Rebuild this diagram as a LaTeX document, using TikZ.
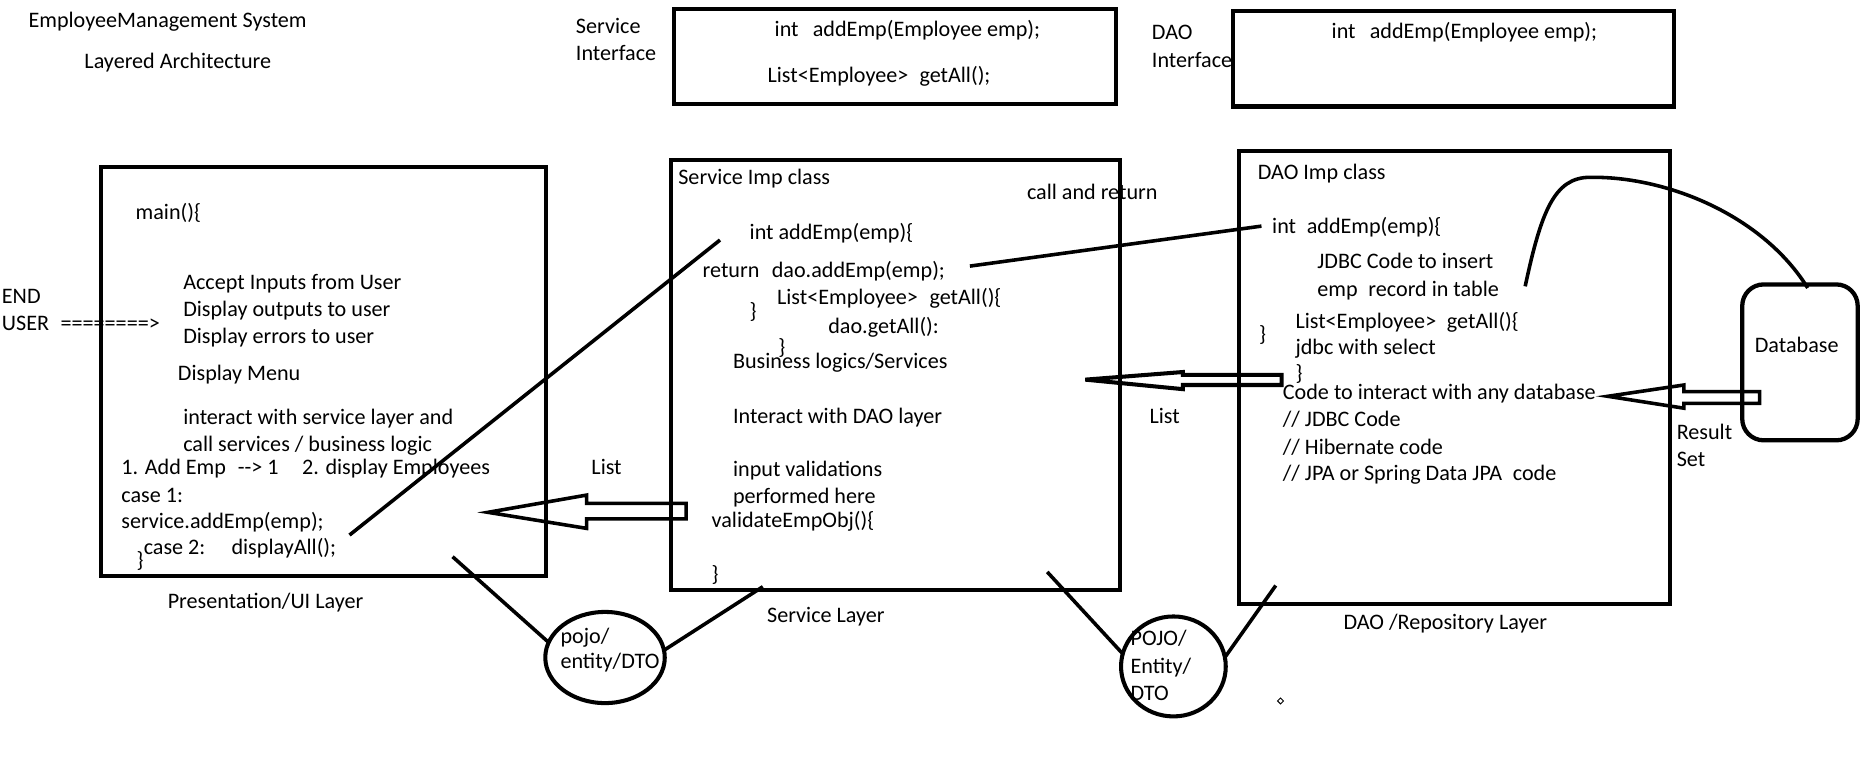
\documentclass[tikz,border=0pt]{standalone}
\usepackage{fontspec}
\setmainfont{Carlito}
\usetikzlibrary{shapes.geometric}
\begin{document}
\begin{tikzpicture}[x=1pt,y=-1pt,
  lbl/.style={anchor=base west, inner sep=0pt, outer sep=0pt, yshift=-6pt,
              font=\fontsize{18.6}{22}\selectfont},
  box/.style={draw, line width=3.4pt, anchor=north west, inner sep=0pt, outer sep=0pt},
  conn/.style={line width=3pt},
  hollow/.style={line width=3pt, line join=miter},
  bubble/.style={ellipse, draw, line width=3.4pt, inner sep=0pt, outer sep=0pt}]

\fill[white] (0,0) rectangle (1568,646);
\useasboundingbox (0,0) rectangle (1568,646);

% ---- headings ----
\node[lbl] (title) at (24,17.4) {EmployeeManagement System};
\node[lbl] (subtitle) at (71,51.8) {Layered Architecture};

% ---- service interface ----
\node[lbl] (svcIfA) at (484,22.4) {Service};
\node[lbl] (svcIfB) at (484,44.8) {Interface};
\node[box, minimum width=372pt, minimum height=80pt] (svcIf) at (566,7.5) {};
\node[lbl] (svcIf1) at (651,24.6) {int\hspace{12pt}addEmp(Employee emp);};
\node[lbl] (svcIf2) at (645,63) {List<Employee>\hspace{9.4pt}getAll();};

% ---- DAO interface ----
\node[lbl] (daoIfA) at (968,27.2) {DAO};
\node[lbl] (daoIfB) at (968,50.4) {Interface};
\node[box, minimum width=371pt, minimum height=80.5pt] (daoIf) at (1036,9) {};
\node[lbl] (daoIf1) at (1119,26.6) {int\hspace{12pt}addEmp(Employee emp);};

% ---- presentation layer ----
\node[lbl] (endA) at (1.6,249) {END};
\node[lbl] (endB) at (1.6,271.5) {USER\hspace{9.7pt}========>};
\node[box, minimum width=374pt, minimum height=344pt] (ui) at (85,140) {};
\node[lbl] (ui0) at (114,178.4) {main()\{};
\node[lbl] (ui1) at (154,237) {Accept Inputs from User};
\node[lbl] (ui2) at (154,259.7) {Display outputs to user};
\node[lbl] (ui3) at (154,282.7) {Display errors to user};
\node[lbl] (ui4) at (149.5,313.6) {Display Menu};
\node[lbl] (ui5) at (154,350.6) {interact with service layer and};
\node[lbl] (ui6) at (154,373) {call services / business logic};
\node[lbl] (ui7) at (102,393) {1. Add Emp\hspace{10pt}-\kern0pt-\kern0pt>\hspace{4.2pt}1\hspace{19.6pt}2. display Employees};
\node[lbl] (ui8) at (102,416) {case 1:};
\node[lbl] (ui9) at (102,438.5) {service.addEmp(emp);};
\node[lbl] (ui10) at (120.8,460) {case 2:\hspace{22pt}displayAll();};
\node[lbl] (ui11) at (114.8,471) {\}};
\node[lbl] (uiName) at (141,505) {Presentation/UI Layer};

% ---- service layer ----
\node[box, minimum width=377pt, minimum height=361.5pt] (svc) at (564,134.5) {};
\node[lbl] (s1) at (570,149) {Service Imp class};
\node[lbl] (callret) at (863,162) {call and return};
\node[lbl] (s2) at (630,195) {int addEmp(emp)\{};
\node[lbl] (s3) at (590.5,227) {return\hspace{10.4pt}dao.addEmp(emp);};
\node[lbl] (s4) at (653,250) {List<Employee>\hspace{9.8pt}getAll()\{};
\node[lbl] (s5) at (630,262) {\}};
\node[lbl] (s6) at (696,274) {dao.getAll():};
\node[lbl] (s7) at (654,292) {\}};
\node[lbl] (s8) at (616,304) {Business logics/Services};
\node[lbl] (s9) at (616,349.6) {Interact with DAO layer};
\node[lbl] (s10) at (616,394) {input validations};
\node[lbl] (s11) at (616,417) {performed here};
\node[lbl] (s12) at (598,437) {validateEmpObj()\{};
\node[lbl] (s13) at (598,483) {\}};
\node[lbl] (svcName) at (644.6,516.8) {Service Layer};

% ---- DAO layer ----
\node[box, minimum width=361.5pt, minimum height=381pt] (dao) at (1041.5,126.5) {};
\node[lbl] (d1) at (1057,145) {DAO Imp class};
\node[lbl] (d2) at (1069,190) {int\hspace{9pt}addEmp(emp)\{};
\node[lbl] (d3) at (1107,220) {JDBC Code to insert};
\node[lbl] (d4) at (1107,243) {emp\hspace{9pt}record in table};
\node[lbl] (d5) at (1088.6,270) {List<Employee>\hspace{9pt}getAll()\{};
\node[lbl] (d6) at (1058,281) {\}};
\node[lbl] (d7) at (1088.6,292) {jdbc with select};
\node[lbl] (d8) at (1088.6,314) {\}};
\node[lbl] (d9) at (1078,330) {Code to interact with any database};
\node[lbl] (d10) at (1078,352) {// JDBC Code};
\node[lbl] (d11) at (1078,375.5) {// Hibernate code};
\node[lbl] (d12) at (1078,398) {// JPA or Spring Data JPA\hspace{9pt}code};
\node[lbl] (daoName) at (1129,522.6) {DAO /Repository Layer};

% ---- database ----
\node[box, rounded corners=18pt, line width=3.6pt, minimum width=97pt, minimum height=131pt] (db) at (1464,239) {};
\node[lbl] (dbText) at (1474.6,290.5) {Database};
\node[lbl] (rsA) at (1409,363) {Result};
\node[lbl] (rsB) at (1409,386) {Set};

% ---- transfer objects ----
\node[bubble, minimum width=100.4pt, minimum height=76.6pt] (pojo) at (508.4,552.5) {};
\node[lbl] (pojoA) at (471,535) {pojo/};
\node[lbl] (pojoB) at (471,556) {entity/DTO};
\node[bubble, minimum width=88pt, minimum height=84pt] (POJO) at (986,560) {};
\node[lbl] (POJOa) at (950,536) {POJO/};
\node[lbl] (POJOb) at (950,560) {Entity/};
\node[lbl] (POJOc) at (950,583) {DTO};

% ---- list labels ----
\node[lbl] (listUi) at (497,392.7) {List};
\node[lbl] (listSvc) at (966,350) {List};

% ---- call lines ----
\coordinate (uiCall) at (293.7,449.6);
\coordinate (svcEntry) at (605,201.7);
\draw[conn] (uiCall) -- (svcEntry);
\coordinate (svcCall) at (815,223.6);
\coordinate (daoEntry) at (1060,190);
\draw[conn] (svcCall) -- (daoEntry);

% JDBC insert reaching the database
\coordinate (jdbcOut) at (1281.6,240.6);
\coordinate (dbTop) at (1519,242);
\draw[conn] (jdbcOut) .. controls (1295,178) and (1306,149) .. (1336,149)
             .. controls (1402,148) and (1482,182) .. (dbTop);

% objects passed between layers
\coordinate (uiObj) at (380.3,467.8);
\coordinate (svcObj) at (641,493);
\draw[conn] (uiObj) -- (pojo.165);
\draw[conn] (pojo.7) -- (svcObj);
\coordinate (svcObj2) at (880,480.6);
\coordinate (daoObj) at (1072,492);
\draw[conn] (svcObj2) -- (POJO.166);
\draw[conn] (POJO.10) -- (daoObj);

% ---- hollow return arrows ----
\draw[hollow] (576.5,423) -- (493,423) -- (493,416) -- (410,430.5) -- (493,444)
              -- (493,436) -- (576.5,436) -- cycle;
\draw[hollow, line width=3.4pt] (1077,315) -- (994,315) -- (994,312.6) -- (912,319)
              -- (994,327) -- (994,323.5) -- (1077,323.5) -- cycle;
\draw[hollow] (1478.6,329) -- (1415,329) -- (1415,323.5) -- (1351,333) -- (1415,343)
              -- (1415,339) -- (1478.6,339) -- cycle;

% small mark
\draw[line width=0.8pt] (1076,586.5) -- (1078.5,589) -- (1076,591.5) -- (1073.5,589) -- cycle;

\end{tikzpicture}
\end{document}
